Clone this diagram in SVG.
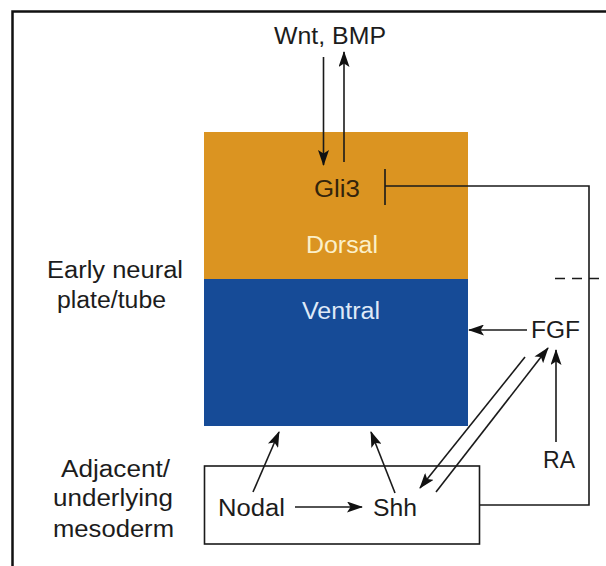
<svg xmlns="http://www.w3.org/2000/svg" width="606" height="566" viewBox="0 0 606 566">
<defs>
<marker id="ah" viewBox="0 0 16 11" refX="15" refY="5.5" markerWidth="16" markerHeight="11" markerUnits="userSpaceOnUse" orient="auto">
<path d="M0,0 L16,5.5 L0,11 L3.5,5.5 z" fill="#111"/>
</marker>
<style>
text{font-family:"Liberation Sans",Arial,sans-serif;font-size:23.5px;fill:#1c1c1c;text-anchor:start}
.ln{stroke:#1a1a1a;stroke-width:1.6;fill:none}
.arr{stroke:#1a1a1a;stroke-width:1.6;fill:none;marker-end:url(#ah)}
</style>
</defs>
<rect width="606" height="566" fill="#fff"/>
<path d="M12.5 566 V11.5 H606" fill="none" stroke="#111" stroke-width="2.5"/>

<g id="neural-tube">
<rect x="204" y="132" width="264" height="147" fill="#DB9421"/>
<rect x="204" y="279" width="264" height="147" fill="#164B97"/>
</g>
<g id="gli3"><text x="314" y="197" textLength="46" lengthAdjust="spacingAndGlyphs" style="fill:#33240c">Gli3</text></g>
<g id="dorsal"><text x="306" y="253" textLength="72" lengthAdjust="spacingAndGlyphs" style="fill:#fbf0c9">Dorsal</text></g>
<g id="ventral"><text x="302" y="319" textLength="78" lengthAdjust="spacingAndGlyphs" style="fill:#dfe9f7">Ventral</text></g>
<g id="wnt-bmp"><text x="274" y="44" textLength="112" lengthAdjust="spacingAndGlyphs">Wnt, BMP</text></g>
<g id="early-neural"><text x="47" y="278" textLength="136" lengthAdjust="spacingAndGlyphs">Early neural</text><text x="57" y="308" textLength="109" lengthAdjust="spacingAndGlyphs">plate/tube</text></g>
<g id="adjacent"><text x="61" y="477" textLength="109" lengthAdjust="spacingAndGlyphs">Adjacent/</text><text x="53" y="506" textLength="120" lengthAdjust="spacingAndGlyphs">underlying</text><text x="53" y="537" textLength="121" lengthAdjust="spacingAndGlyphs">mesoderm</text></g>
<g id="mesoderm-box"><rect x="204.5" y="466" width="275" height="78" fill="none" stroke="#1a1a1a" stroke-width="1.6"/></g>
<g id="nodal"><text x="218" y="516" textLength="67" lengthAdjust="spacingAndGlyphs">Nodal</text></g>
<g id="shh"><text x="373" y="516" textLength="44" lengthAdjust="spacingAndGlyphs">Shh</text></g>
<g id="fgf"><text x="531" y="338" textLength="49" lengthAdjust="spacingAndGlyphs">FGF</text></g>
<g id="ra"><text x="543" y="468" textLength="32" lengthAdjust="spacingAndGlyphs">RA</text></g>

<g id="connectors">
<line class="arr" x1="323.5" y1="57" x2="323.5" y2="165"/>
<line class="arr" x1="344" y1="162" x2="344" y2="52"/>
<path class="ln" d="M385 169 V205 M385 186 H589 V505 H480"/>
<line class="ln" x1="555" y1="278.5" x2="606" y2="278.5" stroke-dasharray="10,7"/>
<line class="arr" x1="527" y1="330" x2="469" y2="330"/>
<line class="arr" x1="556" y1="442" x2="556" y2="350"/>
<line class="arr" x1="436" y1="492" x2="548" y2="348"/>
<line class="arr" x1="525" y1="357" x2="420" y2="488"/>
<line class="arr" x1="295" y1="507" x2="362" y2="507"/>
<line class="arr" x1="253" y1="492" x2="279" y2="432"/>
<line class="arr" x1="395" y1="493" x2="371" y2="432"/>
</g>
</svg>
